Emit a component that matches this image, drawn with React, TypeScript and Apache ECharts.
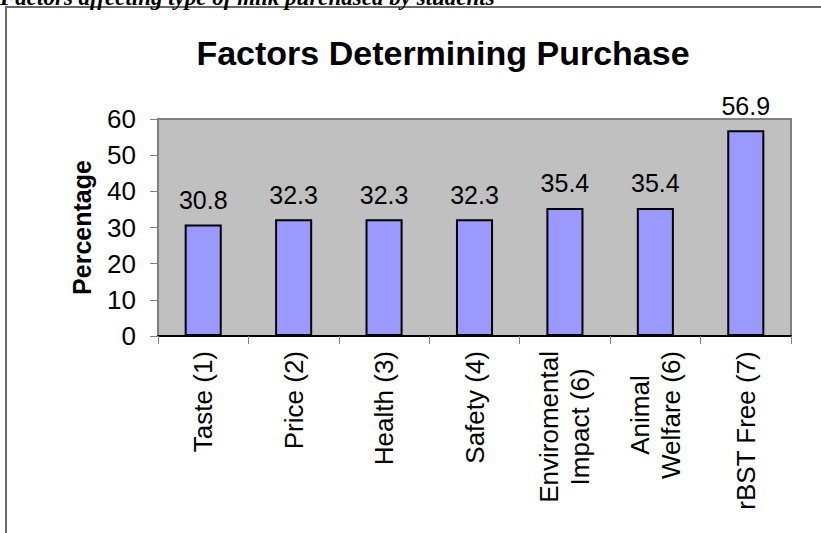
import React, { useEffect, useRef } from "react";
import * as echarts from "echarts";

const caption = "Factors affecting type of milk purchased by students";
const chartTitle = "Factors Determining Purchase";
const yAxisName = "Percentage";
const categories = [
  "Taste (1)",
  "Price (2)",
  "Health (3)",
  "Safety (4)",
  "Enviromental\nImpact (6)",
  "Animal\nWelfare (6)",
  "rBST Free (7)",
];
const values = [30.8, 32.3, 32.3, 32.3, 35.4, 35.4, 56.9];
const yMin = 0;
const yMax = 60;
const yStep = 10;

const SANS = "'Liberation Sans', Arial, Helvetica, sans-serif";
const SERIF = "'Liberation Serif', 'Times New Roman', serif";

export default function App() {
  const ref = useRef<HTMLDivElement>(null);
  useEffect(() => {
    if (!ref.current) return;
    const chart = echarts.init(ref.current, null, { renderer: "svg" });
    chart.setOption({
      animation: false,
      backgroundColor: "#ffffff",
      title: {
        text: chartTitle,
        left: 438,
        top: 31,
        textAlign: "center",
        textStyle: { fontFamily: SANS, fontWeight: "bold", fontSize: 34, color: "#000" },
      },
      graphic: [
        {
          type: "rect",
          shape: { x: 6, y: 7, width: 900, height: 600 },
          style: { fill: "none", stroke: "#6a6a6a", lineWidth: 2 },
          silent: true,
        },
        {
          type: "text",
          x: 0,
          y: -3,
          style: {
            text: caption,
            font: `italic bold 23px ${SERIF}`,
            fill: "#000",
            textAlign: "left",
            textVerticalAlign: "middle",
          },
          silent: true,
        },
      ],
      grid: {
        left: 158,
        right: 30,
        top: 119,
        bottom: 197,
        show: true,
        backgroundColor: "#c0c0c0",
        borderColor: "#808080",
        borderWidth: 2,
        containLabel: false,
      },
      xAxis: {
        type: "category",
        data: categories,
        axisLine: { show: true, lineStyle: { color: "#000", width: 2 } },
        axisTick: { show: true, alignWithLabel: false, length: 8, lineStyle: { color: "#808080", width: 1 } },
        axisLabel: {
          rotate: 90,
          interval: 0,
          margin: 15,
          fontSize: 26,
          fontFamily: SANS,
          color: "#000",
          formatter: (v: string) => v.split("\n").map((l) => `{c|${l}}`).join("\n"),
          rich: { c: { align: "center", fontSize: 26, fontFamily: SANS, color: "#000", lineHeight: 31 } },
        },
        splitLine: { show: false },
      },
      yAxis: {
        type: "value",
        min: yMin,
        max: yMax,
        interval: yStep,
        name: yAxisName,
        nameLocation: "middle",
        nameRotate: 90,
        nameGap: 64,
        nameTextStyle: { fontFamily: SANS, fontWeight: "bold", fontSize: 25, color: "#000" },
        axisLine: { show: true, lineStyle: { color: "#808080", width: 2 } },
        axisTick: { show: true, length: 8, lineStyle: { color: "#808080", width: 1 } },
        axisLabel: { margin: 22, fontSize: 26, fontFamily: SANS, color: "#000" },
        splitLine: { show: false },
      },
      series: [
        {
          type: "bar",
          data: values,
          barWidth: "41%",
          itemStyle: { color: "#9999ff", borderColor: "#000", borderWidth: 2 },
          label: {
            show: true,
            position: "top",
            distance: 12,
            fontSize: 25,
            fontFamily: SANS,
            color: "#000",
          },
        },
      ],
    });
    return () => chart.dispose();
  }, []);
  return (
    <div
      ref={ref}
      style={{ position: "fixed", left: 0, top: 0, width: 821, height: 533 }}
    />
  );
}
